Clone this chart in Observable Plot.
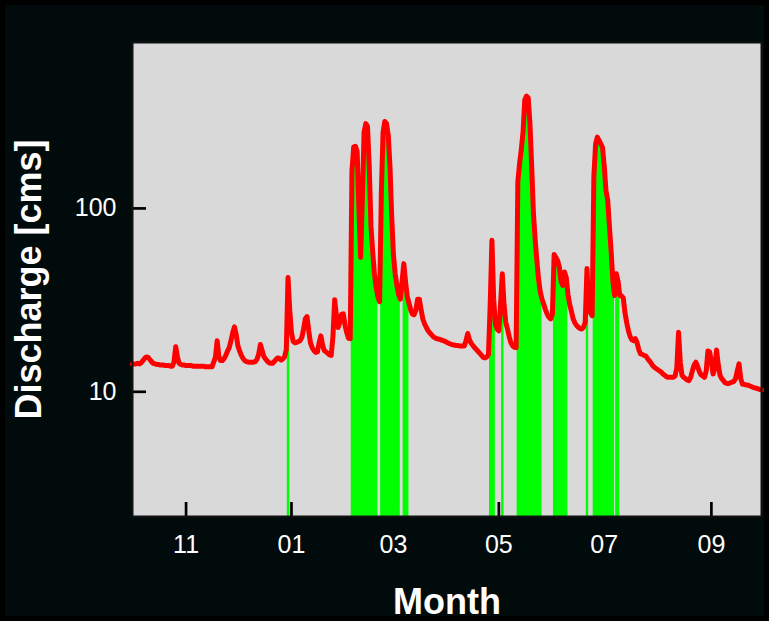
<!DOCTYPE html>
<html><head><meta charset="utf-8">
<script src="https://cdn.jsdelivr.net/npm/d3@7"></script>
<script src="https://cdn.jsdelivr.net/npm/@observablehq/plot@0.6"></script>
<style>
html,body{margin:0;padding:0;background:#000;}
#chart svg{display:block;outline:5px solid #000;outline-offset:-5px;}
</style></head><body><div id="chart"></div>
<script>
const startDate = "2010-10-01";
// daily discharge [cms], Oct 1 .. Sep 30
const discharge = [
14.2,14.2,14.2,14.3,14.2,14.4,14.8,15.2,15.5,15.4,
15.0,14.6,14.3,14.2,14.1,14.1,14.0,14.0,14.0,13.9,
13.9,13.9,13.8,13.8,14.5,17.6,15.5,14.3,14.1,14.0,
14.0,13.9,13.9,13.9,13.9,13.8,13.8,13.8,13.8,13.8,
13.8,13.8,13.7,13.7,13.7,13.7,13.7,14.5,15.5,19.0,
15.5,14.8,14.8,15.2,15.8,16.7,17.4,19.0,21.0,22.6,
20.5,17.8,16.7,15.8,15.2,14.8,14.6,14.5,14.5,14.5,
14.5,14.6,15.0,16.0,18.1,16.8,15.6,15.1,14.7,14.4,
14.3,14.3,14.6,15.0,15.3,15.2,14.9,15.1,15.5,17.0,
42.0,28.0,21.0,18.8,18.5,18.6,18.8,19.0,19.8,22.0,
25.0,25.7,21.5,18.5,17.4,16.8,16.4,16.5,18.5,20.2,
18.0,16.8,16.5,16.2,15.9,15.8,20.0,31.8,26.0,22.4,
24.0,26.5,26.6,23.0,21.0,19.6,19.5,160,216,218,
205,100,54,110,260,290,280,170,80,58,
44,37,33,31,120,260,298,290,250,170,
90,56,44,38,34,32,40,50,40,33,
30.5,28,26.5,26.3,28,32,32,28,25,23.5,
22.5,21.6,21,20.5,20,19.7,19.5,19.4,19.3,19.1,
19.0,18.8,18.6,18.4,18.2,18.1,18.0,17.9,17.9,17.8,
17.8,17.8,17.8,19.0,20.8,19.2,18.4,17.9,17.4,17.0,
16.6,16.2,15.8,15.4,15.3,15.5,16.0,30,67,32,
23.4,22,21.5,30,44,30,24,22,20,18.5,
17.8,17.5,17.4,140,175,210,260,390,410,400,
290,170,95,68,52,41,35,32,30,28,
26.5,25.5,25,26.5,56,54,52,48,40,38,
45,42,34,30,27.5,25,23.8,23,22.5,22.1,
22,22.5,24,47,29,27,26,150,225,245,
235,225,215,170,125,111,80,58,40,33.5,
44,40,33.5,33.3,32.5,27,23.8,21.5,20,19.2,
19.0,19.5,18.5,17,16.1,16.0,15.8,15.7,15.2,14.8,
14.4,13.9,13.6,13.4,13.2,13.0,12.8,12.5,12.3,12.1,
12.0,12.0,12.0,12.0,12.2,13.5,21.1,14.5,12.3,12.0,
11.8,11.6,11.5,12.0,13.0,14.0,14.5,13.8,12.9,12.4,
12.2,12.0,13.0,16.7,16.5,14.5,12.5,13.5,16.9,14.0,
12.3,11.8,11.5,11.2,11.1,11.1,11.2,11.3,11.4,11.8,
13.0,14.2,11.8,11.0,11.0,10.9,10.9,10.8,10.7,10.6,
10.5,10.45,10.4,10.3,10.25
];
// high-flow event periods (green)
const eventStarts = ["2010-12-30","2011-02-05","2011-02-22","2011-03-07","2011-04-26","2011-05-03","2011-05-12","2011-06-02","2011-06-21","2011-06-25","2011-07-08"];
const eventEnds   = ["2010-12-30","2011-02-19","2011-03-04","2011-03-09","2011-04-28","2011-05-03","2011-05-25","2011-06-09","2011-06-21","2011-07-06","2011-07-09"];
const monthTicks = ["2010-11-01","2011-01-01","2011-03-01","2011-05-01","2011-07-01","2011-09-01"];
const dischargeTicks = [10, 100];
const xLabel = "Month";
const yLabel = "Discharge [cms]";

const parse = s => new Date(s + "T00:00:00Z");
const day0 = parse(startDate);
const rows = discharge.map((q, i) => ({date: d3.utcDay.offset(day0, i), q}));
const periods = eventStarts.map((s, i) => [parse(s), parse(eventEnds[i])]);
const eventRows = rows.filter(r => periods.some(([a, b]) => r.date >= a && r.date <= b));
const tickDates = monthTicks.map(parse);
const yDomain = [2.09, 803];
const font = "'Liberation Sans', Arial, Helvetica, sans-serif";

const chart = Plot.plot({
  width: 769, height: 621,
  marginLeft: 132, marginRight: 8, marginTop: 42, marginBottom: 105,
  style: {background: "#020b0b", fontFamily: font, color: "white"},
  x: {type: "utc", domain: [day0, rows[rows.length - 1].date]},
  y: {type: "log", domain: yDomain},
  marks: [
    Plot.frame({fill: "#d9d9d9"}),
    Plot.axisX(tickDates, {tickSize: -14, strokeWidth: 2.7, stroke: "black", fill: "none", label: null}),
    Plot.axisY(dischargeTicks, {tickSize: -14, strokeWidth: 2.7, stroke: "black", fill: "none", label: null}),
    Plot.axisX(tickDates, {tickSize: 0, tickPadding: 19, fontSize: 25, fill: "white", tickFormat: d3.utcFormat("%m"), label: null}),
    Plot.axisY(dischargeTicks, {tickSize: 0, tickPadding: 16, fontSize: 25, fill: "white", tickFormat: d => d3.format("d")(d), label: null}),
    Plot.ruleX(eventRows, {x: "date", y1: yDomain[0], y2: "q", stroke: "#00ff00", strokeWidth: 2.4}),
    Plot.lineY(rows, {x: "date", y: "q", stroke: "#ff0000", strokeWidth: 5, strokeLinejoin: "round"}),
    Plot.frame({stroke: "#111", strokeWidth: 2}),
    Plot.text([yLabel], {frameAnchor: "left", textAnchor: "middle", lineAnchor: "middle", rotate: -90, dx: -103.5, fontSize: 36, fontWeight: "bold", fill: "white"}),
    Plot.text([xLabel], {frameAnchor: "bottom", textAnchor: "middle", lineAnchor: "middle", dy: 86, fontSize: 36, fontWeight: "bold", fill: "white"})
  ]
});
document.getElementById("chart").append(chart);
</script>
</body></html>
